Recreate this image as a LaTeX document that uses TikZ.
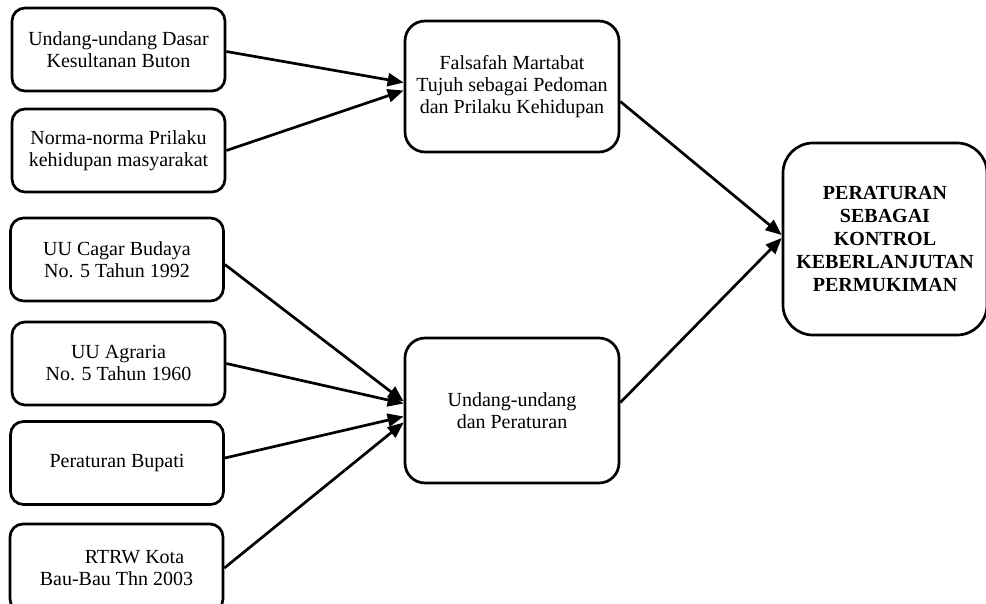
\documentclass[tikz,border=0pt]{standalone}
\usepackage{fontspec}
\setmainfont{Liberation Serif}
\usetikzlibrary{arrows.meta}
\begin{document}
\begin{tikzpicture}[x=1pt,y=-1pt,
  box/.style={draw,line width=2.7pt,rounded corners=13pt,align=center,
    font=\fontsize{20}{22}\selectfont,inner sep=0pt,minimum width=213pt,minimum height=83pt},
  midbox/.style={box,rounded corners=20pt,minimum width=214pt},
  bigbox/.style={box,rounded corners=30pt,minimum width=204pt,minimum height=192pt,
    font=\fontsize{20}{23}\selectfont\bfseries},
  arr/.style={line width=2.7pt,-{Triangle[length=16pt,width=13pt]}}]
\useasboundingbox (0,0) rectangle (986,603);
\clip (0,0) rectangle (986,603);
\node[box] (b1) at (118.5,49.5) {Undang-undang Dasar\\Kesultanan Buton};
\node[box] (b2) at (118.5,150.5) {Norma-norma Prilaku\\kehidupan masyarakat};
\node[box] (b3) at (117,259.5) {UU Cagar Budaya\\No. 5 Tahun 1992};
\node[box] (b4) at (118.5,363.5) {UU Agraria\\No. 5 Tahun 1960};
\node[box] (b5) at (117,463) {Peraturan Bupati};
\node[box,minimum height=88pt] (b6) at (116.5,568) {\hspace*{36pt}RTRW Kota\\Bau-Bau Thn 2003};
\node[midbox,minimum height=131pt] (f) at (512,86.5) {Falsafah Martabat\\Tujuh sebagai Pedoman\\dan Prilaku Kehidupan};
\node[midbox,minimum height=145pt] (u) at (512,410.5) {Undang-undang\\dan Peraturan};
\node[bigbox] (p) at (885,239) {PERATURAN\\SEBAGAI\\KONTROL\\KEBERLANJUTAN\\PERMUKIMAN};
\draw[arr] ([yshift=-2pt]b1.east) -- ([yshift=4pt]f.west);
\draw[arr] (b2.east) -- ([yshift=-4pt]f.west);
\draw[arr] ([yshift=-5pt]b3.east) -- ([yshift=9pt]u.west);
\draw[arr] (b4.east) -- ([yshift=7pt]u.west);
\draw[arr] ([yshift=5pt]b5.east) -- ([yshift=-6pt]u.west);
\draw[arr] (b6.east) -- ([yshift=-12pt]u.west);
\draw[arr] ([yshift=-15pt]f.east) -- ([yshift=4pt]p.west);
\draw[arr] ([yshift=8pt]u.east) -- ([yshift=1pt]p.west);
\end{tikzpicture}
\end{document}
